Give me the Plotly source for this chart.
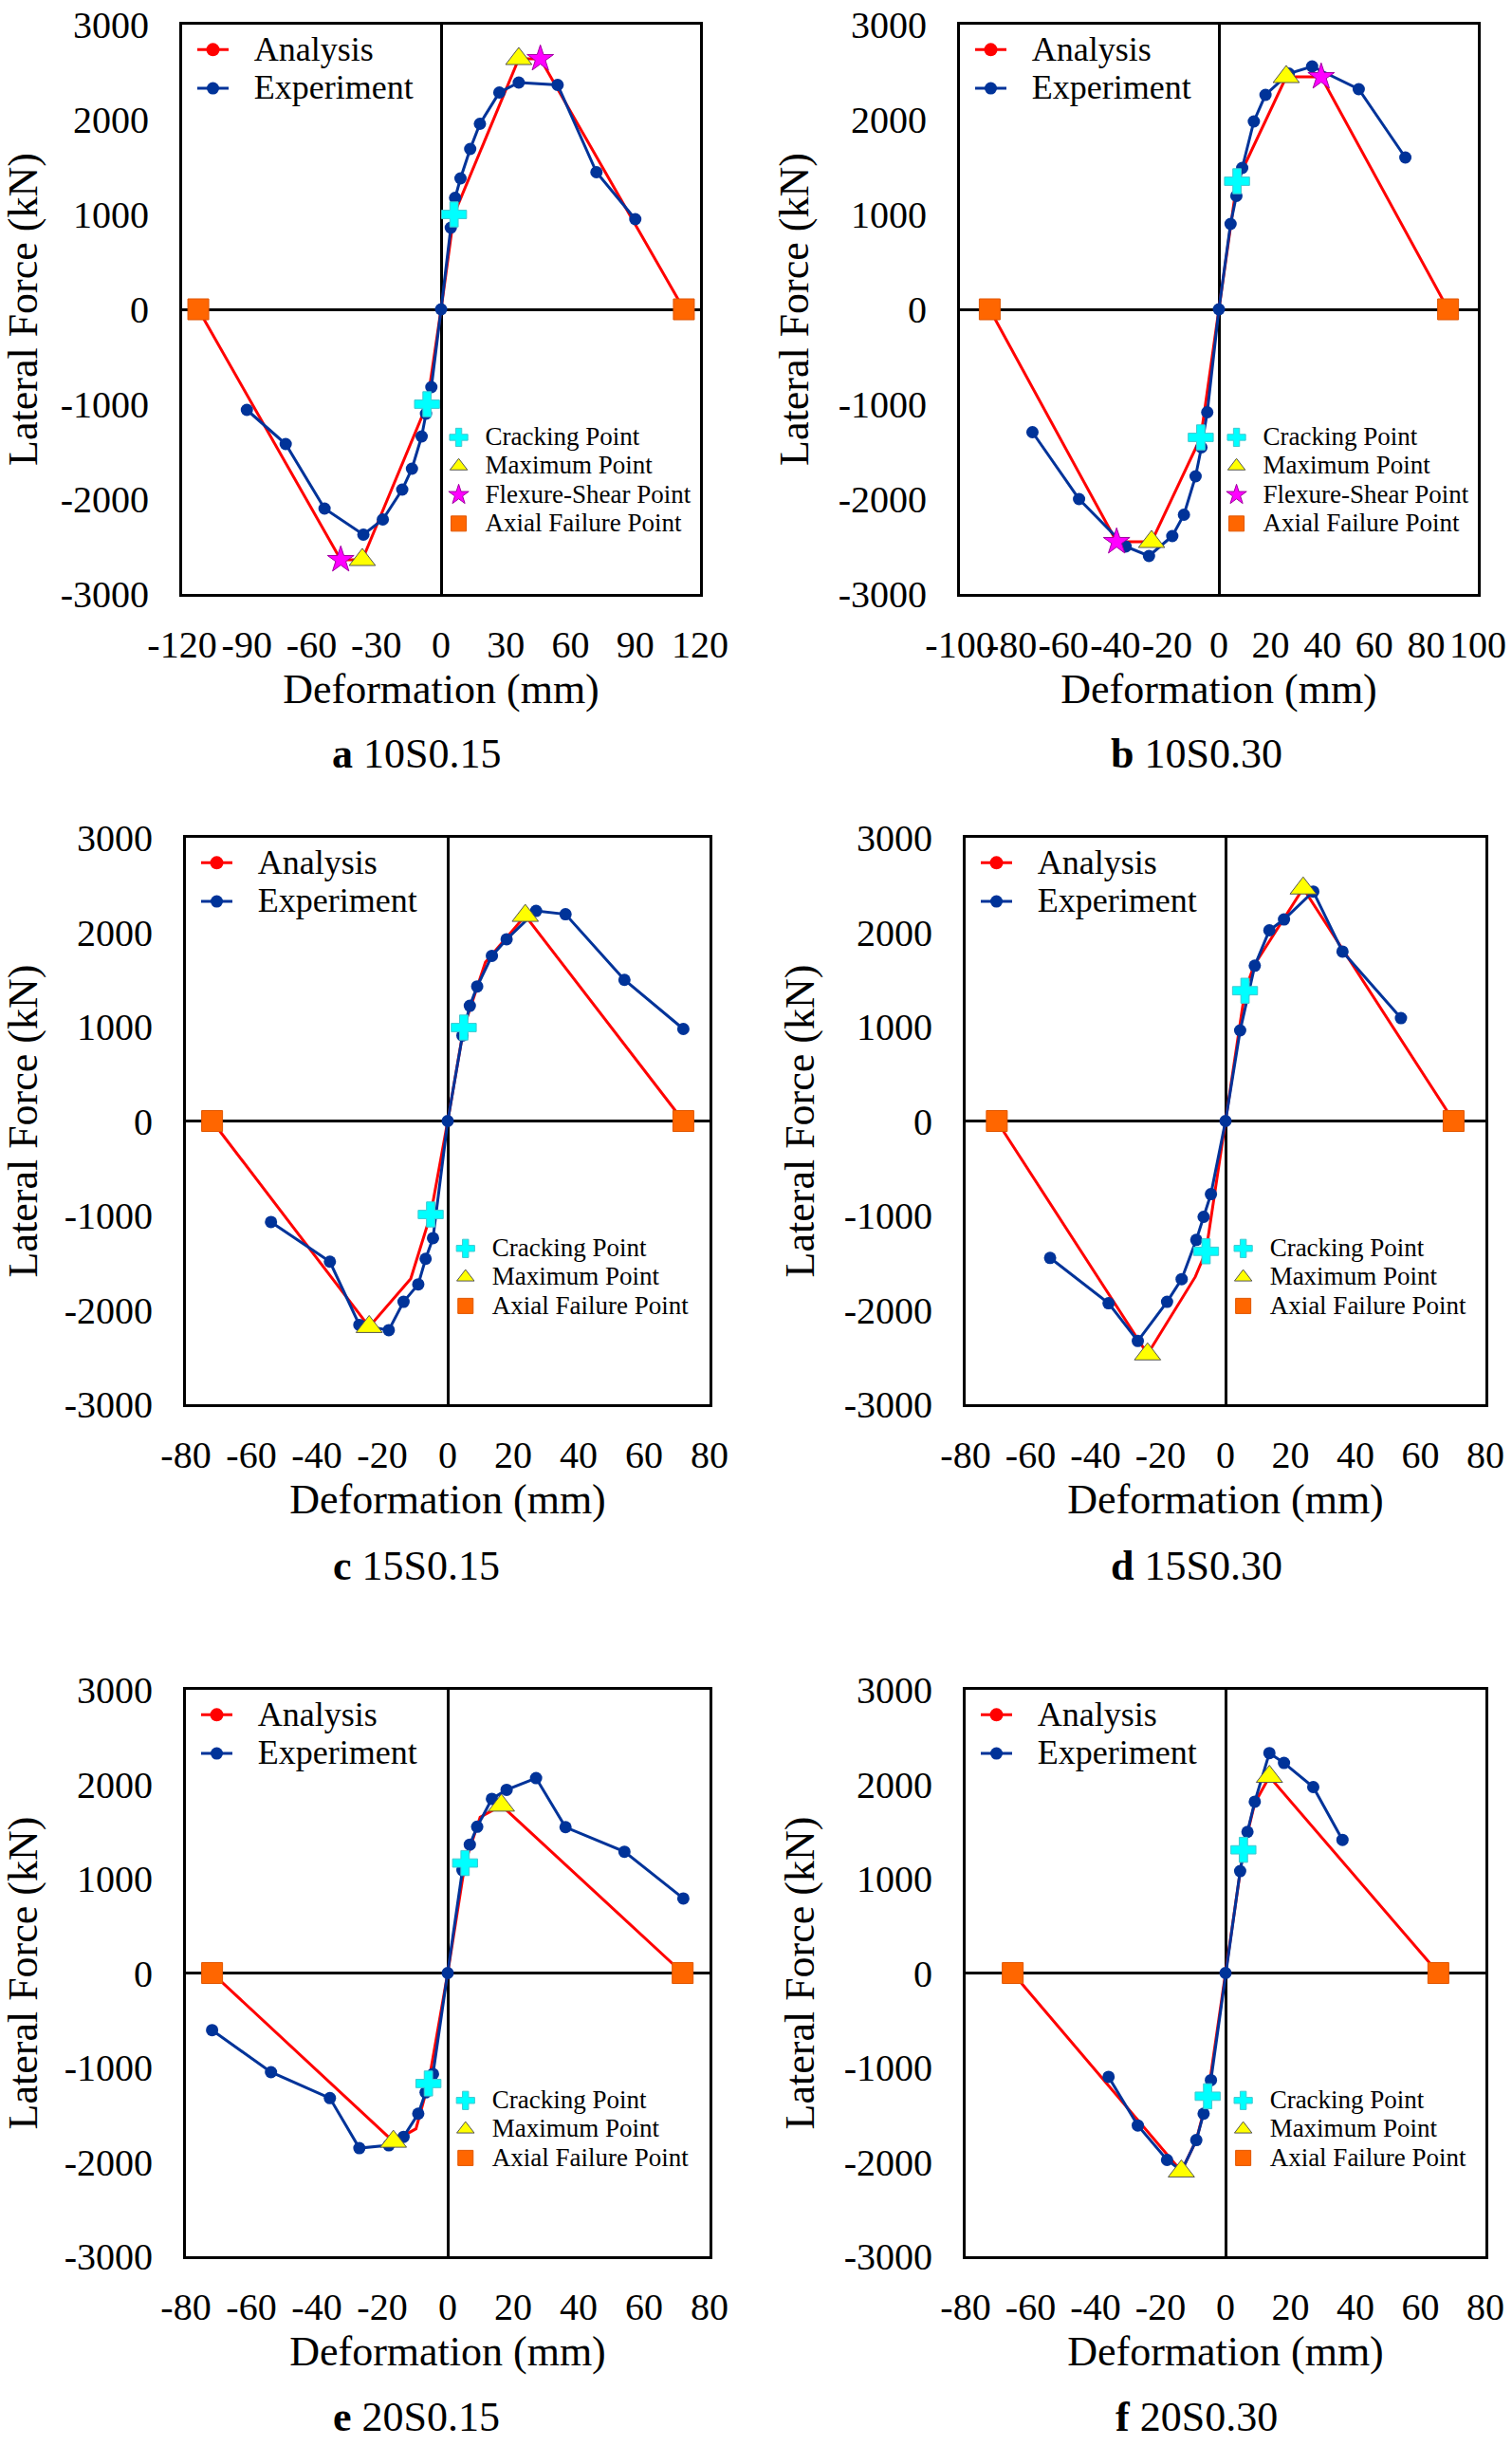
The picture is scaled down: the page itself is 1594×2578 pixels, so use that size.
import plotly.graph_objects as go

# ---------------- data ----------------
# a 10S0.15
a_ana_x = [-112.5, -46.5, -36.5, -6.5, 0, 6, 36, 46, 112.5]
a_ana_y = [0, -2640, -2640, -1000, 0, 1000, 2640, 2640, 0]
a_exp_x = [-90, -72, -54, -36, -27, -18, -13.5, -9, -7, -4.5, 0, 4.5, 6.5, 9, 13.5, 18, 27, 36, 54, 72, 90]
a_exp_y = [-1060, -1420, -2100, -2375, -2215, -1900, -1680, -1340, -1100, -820, 0, 860, 1175, 1380, 1690, 1955, 2285, 2390, 2365, 1445, 950]

# b 10S0.30
b_ana_x = [-88.5, -39.5, -26, -7, 0, 7, 26, 39.5, 88.5]
b_ana_y = [0, -2450, -2450, -1350, 0, 1350, 2450, 2450, 0]
b_exp_x = [-72, -54, -36, -27, -18, -13.5, -9, -6.75, -4.5, 0, 4.5, 6.75, 9, 13.5, 18, 27, 36, 54, 72]
b_exp_y = [-1295, -2000, -2500, -2600, -2390, -2165, -1760, -1455, -1085, 0, 900, 1195, 1490, 1980, 2260, 2485, 2560, 2320, 1600]

# c 15S0.15
c_ana_x = [-72, -24, -11.3, -5.2, 0, 4.9, 11.5, 23.7, 72]
c_ana_y = [0, -2180, -1670, -990, 0, 990, 1680, 2175, 0]
c_exp_x = [-54, -36, -27, -18, -13.5, -9, -6.75, -4.5, 0, 4.5, 6.75, 9, 13.5, 18, 27, 36, 54, 72]
c_exp_y = [-1070, -1490, -2160, -2215, -1915, -1730, -1460, -1240, 0, 905, 1220, 1425, 1750, 1925, 2225, 2190, 1495, 975]

# d 15S0.30
d_ana_x = [-70.4, -24, -9.3, -6, 0, 6, 8.8, 23.9, 70.2]
d_ana_y = [0, -2470, -1650, -1380, 0, 1380, 1650, 2465, 0]
d_exp_x = [-54, -36, -27, -18, -13.5, -9, -6.75, -4.5, 0, 4.5, 9, 13.5, 18, 27, 36, 54]
d_exp_y = [-1450, -1930, -2330, -1915, -1675, -1260, -1015, -775, 0, 960, 1645, 2020, 2135, 2430, 1795, 1090]

# e 20S0.15
e_ana_x = [-72, -16.6, -9.7, -5.9, 0, 5.3, 9.9, 16.4, 71.8]
e_ana_y = [0, -1785, -1650, -1170, 0, 1165, 1650, 1775, 0]
e_exp_x = [-72, -54, -36, -27, -18, -13.5, -9, -6.75, -4.5, 0, 4.5, 6.75, 9, 13.5, 18, 27, 36, 54, 72]
e_exp_y = [-605, -1050, -1325, -1855, -1825, -1735, -1490, -1265, -1070, 0, 1090, 1360, 1550, 1845, 1940, 2065, 1545, 1285, 790]

# f 20S0.30
f_ana_x = [-65.5, -13.6, -9, -5.5, 0, 5.5, 9, 13.5, 65.5]
f_ana_y = [0, -2100, -1770, -1305, 0, 1305, 1800, 2080, 0]
f_exp_x = [-36, -27, -18, -13.5, -9, -6.75, -4.5, 0, 4.5, 6.75, 9, 13.5, 18, 27, 36]
f_exp_y = [-1100, -1615, -1980, -2095, -1770, -1490, -1135, 0, 1080, 1495, 1815, 2330, 2225, 1970, 1410]

# indices of characteristic points on the analysis curves
crack_idx = [3, 5]
max_idx_fs = [2, 6]      # panels with flexure-shear point
flex_idx = [1, 7]
max_idx = [1, 7]         # panels without flexure-shear point
axial_idx = [0, 8]

# tick values / labels
x_ticks_120 = [-120, -90, -60, -30, 0, 30, 60, 90, 120]
x_ticks_100 = [-100, -80, -60, -40, -20, 0, 20, 40, 60, 80, 100]
x_ticks_80 = [-80, -60, -40, -20, 0, 20, 40, 60, 80]
y_ticks = [-3000, -2000, -1000, 0, 1000, 2000, 3000]

panel_letters = ["a", "b", "c", "d", "e", "f"]
panel_names = ["10S0.15", "10S0.30", "15S0.15", "15S0.30", "20S0.15", "20S0.30"]

# ---------------- layout constants ----------------
W, H = 1594, 2578
FONT = "Liberation Serif"
RED = "#ff0000"
BLUE = "#003399"
SP = "\u00a0\u00a0\u00a0"

frames = [  # left, right, top, bottom in pixels
    (192, 738, 26, 626),
    (1012, 1558, 26, 626),
    (196, 748, 883, 1480),
    (1018, 1566, 883, 1480),
    (196, 748, 1781, 2378),
    (1018, 1566, 1781, 2378),
]
caption_pos = [(439, 794), (1261, 794), (439, 1650), (1261, 1650), (439, 2547), (1261, 2547)]

panels = [
    (a_ana_x, a_ana_y, a_exp_x, a_exp_y, x_ticks_120, True),
    (b_ana_x, b_ana_y, b_exp_x, b_exp_y, x_ticks_100, True),
    (c_ana_x, c_ana_y, c_exp_x, c_exp_y, x_ticks_80, False),
    (d_ana_x, d_ana_y, d_exp_x, d_exp_y, x_ticks_80, False),
    (e_ana_x, e_ana_y, e_exp_x, e_exp_y, x_ticks_80, False),
    (f_ana_x, f_ana_y, f_exp_x, f_exp_y, x_ticks_80, False),
]


def px(x):
    return x / W


def py(y):
    return 1 - y / H


def pick(arr, idx):
    return [arr[i] for i in idx]


def span(text, size):
    return f'<span style="font-size:{size}px">{text}</span>'


fig = go.Figure()
layout = dict(
    width=W, height=H,
    margin=dict(l=0, r=0, t=0, b=0, autoexpand=False),
    paper_bgcolor="white", plot_bgcolor="white",
    font=dict(family=FONT, color="black"),
    showlegend=True,
    annotations=[],
)

for k, (ax_, ay_, ex_, ey_, xt, has_fs) in enumerate(panels):
    n = k + 1
    xa = "x" if n == 1 else f"x{n}"
    ya = "y" if n == 1 else f"y{n}"
    lg1 = "legend" if n == 1 else f"legend{2 * n - 1}"
    lg2 = f"legend{2 * n}"
    L, R, T, B = frames[k]

    # analysis curve
    fig.add_trace(go.Scatter(x=ax_, y=ay_, mode="lines", line=dict(color=RED, width=3),
                             xaxis=xa, yaxis=ya, showlegend=False, hoverinfo="skip"))
    # legend entry for analysis (line + dot)
    fig.add_trace(go.Scatter(x=[None], y=[None], mode="lines+markers", name=SP + span("Analysis", 36),
                             line=dict(color=RED, width=3), marker=dict(color=RED, size=14),
                             xaxis=xa, yaxis=ya, legend=lg1, legendrank=1))
    # experiment curve
    fig.add_trace(go.Scatter(x=ex_, y=ey_, mode="lines+markers", name=SP + span("Experiment", 36),
                             line=dict(color=BLUE, width=3), marker=dict(color=BLUE, size=13),
                             xaxis=xa, yaxis=ya, legend=lg1, legendrank=2))
    # characteristic points
    mi = max_idx_fs if has_fs else max_idx
    fig.add_trace(go.Scatter(x=pick(ax_, crack_idx), y=pick(ay_, crack_idx), mode="markers",
                             name=span("Cracking Point", 27),
                             marker=dict(symbol="cross", size=22, color="#00ffff",
                                         line=dict(color="#40c8d0", width=1)),
                             xaxis=xa, yaxis=ya, legend=lg2, legendrank=1))
    fig.add_trace(go.Scatter(x=pick(ax_, mi), y=pick(ay_, mi), mode="markers",
                             name=span("Maximum Point", 27),
                             marker=dict(symbol="triangle-up", size=24, color="#ffff00",
                                         line=dict(color="#555555", width=1)),
                             xaxis=xa, yaxis=ya, legend=lg2, legendrank=2))
    if has_fs:
        fig.add_trace(go.Scatter(x=pick(ax_, flex_idx), y=pick(ay_, flex_idx), mode="markers",
                                 name=span("Flexure-Shear Point", 27),
                                 marker=dict(symbol="star", size=21, color="#ff00ff",
                                             line=dict(color="#a000a0", width=1)),
                                 xaxis=xa, yaxis=ya, legend=lg2, legendrank=3))
    fig.add_trace(go.Scatter(x=pick(ax_, axial_idx), y=pick(ay_, axial_idx), mode="markers",
                             name=span("Axial Failure Point", 27),
                             marker=dict(symbol="square", size=22, color="#ff6600",
                                         line=dict(color="#e05500", width=1)),
                             xaxis=xa, yaxis=ya, legend=lg2, legendrank=4))

    common = dict(showline=True, mirror=True, linecolor="black", linewidth=3,
                  zeroline=True, zerolinecolor="black", zerolinewidth=2.5,
                  showgrid=False, ticks="", automargin=False,
                  tickfont=dict(family=FONT, size=40, color="black"))
    layout["xaxis" if n == 1 else f"xaxis{n}"] = dict(
        domain=[px(L), px(R)], range=[xt[0], xt[-1]], anchor=ya,
        tickmode="array", tickvals=xt, ticktext=[str(v) for v in xt], tickangle=0,
        ticklabelstandoff=16,
        title=dict(text="Deformation (mm)", font=dict(family=FONT, size=44, color="black"), standoff=6),
        **common)
    layout["yaxis" if n == 1 else f"yaxis{n}"] = dict(
        domain=[py(B), py(T)], range=[y_ticks[0], y_ticks[-1]], anchor=xa,
        tickmode="array", tickvals=y_ticks, ticktext=[str(v) for v in y_ticks],
        ticklabelstandoff=24,
        title=dict(text="Lateral Force (kN)", font=dict(family=FONT, size=44, color="black"), standoff=18),
        **common)

    w = R - L
    hgt = B - T
    layout[lg1] = dict(x=px(L + 11), y=py(T + 1), xanchor="left", yanchor="top",
                       bgcolor="rgba(0,0,0,0)", borderwidth=0, itemwidth=33,
                       font=dict(family=FONT, size=29, color="black"), traceorder="normal")
    layout[lg2] = dict(x=px(L + 0.534 * w - 28), y=py(T + 0.723 * hgt - 19), xanchor="left", yanchor="top",
                       bgcolor="rgba(0,0,0,0)", borderwidth=0, itemwidth=46,
                       font=dict(family=FONT, size=21, color="black"), traceorder="normal")

    cx, cy = caption_pos[k]
    layout["annotations"].append(dict(
        x=px(cx), y=py(cy), xref="paper", yref="paper", showarrow=False,
        xanchor="center", yanchor="middle",
        text=f"<b>{panel_letters[k]}</b> {panel_names[k]}",
        font=dict(family=FONT, size=44, color="black")))

fig.update_layout(**layout)
fig.write_html("out.html", config={"displayModeBar": False},
               post_script="document.body.style.margin='0px';document.body.style.padding='0px';")
